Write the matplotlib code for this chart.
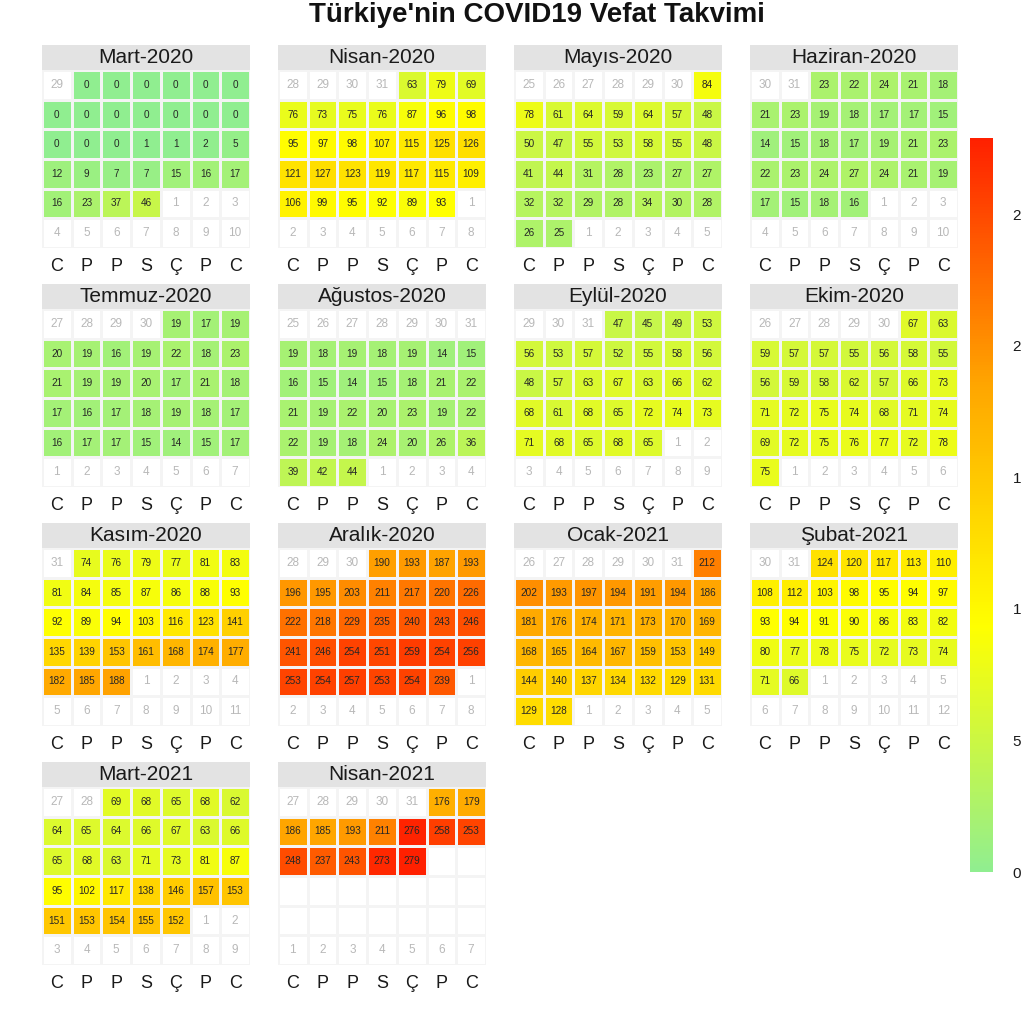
import datetime as dt
import numpy as np
import matplotlib
matplotlib.use("Agg")
import matplotlib.pyplot as plt
from matplotlib.colors import LinearSegmentedColormap, Normalize
from matplotlib.patches import Rectangle
from matplotlib.cm import ScalarMappable

plt.rcParams['font.family'] = ['Liberation Sans', 'DejaVu Sans']

# ---------------- data (daily COVID-19 deaths, Turkey) ----------------
title = "Türkiye'nin COVID19 Vefat Takvimi"
weekday_labels = ["C", "P", "P", "S", "Ç", "P", "C"]   # week starts on Saturday
month_names = ["Ocak", "Şubat", "Mart", "Nisan", "Mayıs", "Haziran", "Temmuz",
               "Ağustos", "Eylül", "Ekim", "Kasım", "Aralık"]

mart_2020 = [0, 0, 0, 0, 0, 0,
             0, 0, 0, 0, 0, 0, 0,
             0, 0, 0, 1, 1, 2, 5,
             12, 9, 7, 7, 15, 16, 17,
             16, 23, 37, 46]
nisan_2020 = [63, 79, 69,
              76, 73, 75, 76, 87, 96, 98,
              95, 97, 98, 107, 115, 125, 126,
              121, 127, 123, 119, 117, 115, 109,
              106, 99, 95, 92, 89, 93]
mayis_2020 = [84,
              78, 61, 64, 59, 64, 57, 48,
              50, 47, 55, 53, 58, 55, 48,
              41, 44, 31, 28, 23, 27, 27,
              32, 32, 29, 28, 34, 30, 28,
              26, 25]
haziran_2020 = [23, 22, 24, 21, 18,
                21, 23, 19, 18, 17, 17, 15,
                14, 15, 18, 17, 19, 21, 23,
                22, 23, 24, 27, 24, 21, 19,
                17, 15, 18, 16]
temmuz_2020 = [19, 17, 19,
               20, 19, 16, 19, 22, 18, 23,
               21, 19, 19, 20, 17, 21, 18,
               17, 16, 17, 18, 19, 18, 17,
               16, 17, 17, 15, 14, 15, 17]
agustos_2020 = [19, 18, 19, 18, 19, 14, 15,
                16, 15, 14, 15, 18, 21, 22,
                21, 19, 22, 20, 23, 19, 22,
                22, 19, 18, 24, 20, 26, 36,
                39, 42, 44]
eylul_2020 = [47, 45, 49, 53,
              56, 53, 57, 52, 55, 58, 56,
              48, 57, 63, 67, 63, 66, 62,
              68, 61, 68, 65, 72, 74, 73,
              71, 68, 65, 68, 65]
ekim_2020 = [67, 63,
             59, 57, 57, 55, 56, 58, 55,
             56, 59, 58, 62, 57, 66, 73,
             71, 72, 75, 74, 68, 71, 74,
             69, 72, 75, 76, 77, 72, 78,
             75]
kasim_2020 = [74, 76, 79, 77, 81, 83,
              81, 84, 85, 87, 86, 88, 93,
              92, 89, 94, 103, 116, 123, 141,
              135, 139, 153, 161, 168, 174, 177,
              182, 185, 188]
aralik_2020 = [190, 193, 187, 193,
               196, 195, 203, 211, 217, 220, 226,
               222, 218, 229, 235, 240, 243, 246,
               241, 246, 254, 251, 259, 254, 256,
               253, 254, 257, 253, 254, 239]
ocak_2021 = [212,
             202, 193, 197, 194, 191, 194, 186,
             181, 176, 174, 171, 173, 170, 169,
             168, 165, 164, 167, 159, 153, 149,
             144, 140, 137, 134, 132, 129, 131,
             129, 128]
subat_2021 = [124, 120, 117, 113, 110,
              108, 112, 103, 98, 95, 94, 97,
              93, 94, 91, 90, 86, 83, 82,
              80, 77, 78, 75, 72, 73, 74,
              71, 66]
mart_2021 = [69, 68, 65, 68, 62,
             64, 65, 64, 66, 67, 63, 66,
             65, 68, 63, 71, 73, 81, 87,
             95, 102, 117, 138, 146, 157, 153,
             151, 153, 154, 155, 152]
nisan_2021 = [176, 179,
              186, 185, 193, 211, 276, 258, 253,
              248, 237, 243, 273, 279]

months = [(2020, 3, mart_2020), (2020, 4, nisan_2020), (2020, 5, mayis_2020),
          (2020, 6, haziran_2020), (2020, 7, temmuz_2020), (2020, 8, agustos_2020),
          (2020, 9, eylul_2020), (2020, 10, ekim_2020), (2020, 11, kasim_2020),
          (2020, 12, aralik_2020), (2021, 1, ocak_2021), (2021, 2, subat_2021),
          (2021, 3, mart_2021), (2021, 4, nisan_2021)]

colorbar_ticks = [0, 50, 100, 150, 200, 250]

# ---------------- style ----------------
W = H = 1021
fig = plt.figure(figsize=(W / 100, H / 100), dpi=100)
fig.patch.set_facecolor("white")

cmap = LinearSegmentedColormap.from_list(
    "heat", ["#90EE90", "#FFFF00", "#FFA500", "#FF2000"])
vmax = max(max(v) for _, _, v in months)
norm = Normalize(vmin=0, vmax=vmax)

col_left = [42, 278, 514, 750]
grid_top = [70, 309, 548, 787]
panel_w, grid_h, strip_h = 208, 178, 25


def col_of(d):
    return (d.weekday() - 5) % 7   # Saturday -> 0


for i, (yr, mo, vals) in enumerate(months):
    r, c = divmod(i, 4)
    ax = fig.add_axes([col_left[c] / W, 1 - (grid_top[r] + grid_h) / H,
                       panel_w / W, grid_h / H])
    first = dt.date(yr, mo, 1)
    off = col_of(first)
    if off == 0:
        off = 7
    start = first - dt.timedelta(days=off)

    Z = np.full((6, 7), np.nan)
    texts = []
    for k in range(42):
        d = start + dt.timedelta(days=k)
        row, col = divmod(k, 7)
        if d.month == mo and d.year == yr:
            idx = d.day - 1
            if idx < len(vals):
                Z[row, col] = vals[idx]
                texts.append((col, row, str(vals[idx]), True))
        else:
            texts.append((col, row, str(d.day), False))

    ax.pcolormesh(np.arange(8), np.arange(7), np.zeros((6, 7)),
                  cmap=LinearSegmentedColormap.from_list("w", ["white", "white"]),
                  edgecolors="#e6e6e6", linewidth=0.8)
    ax.pcolormesh(np.arange(8), np.arange(7), np.ma.masked_invalid(Z),
                  cmap=cmap, norm=norm, edgecolors="#f4f4f4", linewidth=0.8)
    for x, y, s, is_val in texts:
        if is_val:
            ax.text(x + 0.5, y + 0.5, s, ha="center", va="center",
                    fontsize=7.2, color="#262626")
        else:
            ax.text(x + 0.5, y + 0.5, s, ha="center", va="center",
                    fontsize=8.5, color="#b8b8b8")

    ax.set_xlim(0, 7)
    ax.set_ylim(6, 0)
    for sp in ax.spines.values():
        sp.set_visible(False)
    ax.set_yticks([])
    ax.set_xticks(np.arange(7) + 0.5)
    ax.set_xticklabels(weekday_labels, fontsize=13, color="#1a1a1a")
    ax.tick_params(axis="x", length=0, pad=7)

    ax.add_patch(Rectangle((0, 1), 1, strip_h / grid_h, transform=ax.transAxes,
                           facecolor="#e3e3e3", edgecolor="none", clip_on=False))
    ax.text(0.5, 1 + strip_h / grid_h / 2, f"{month_names[mo - 1]}-{yr}",
            transform=ax.transAxes, ha="center", va="center",
            fontsize=15, color="#1a1a1a")

fig.text(537 / W, 1 - 15 / H, title, ha="center", va="center",
         fontsize=20, fontweight="bold", color="#111111")

cax = fig.add_axes([970 / W, 1 - 872 / H, 23 / W, 734 / H])
cb = fig.colorbar(ScalarMappable(norm=norm, cmap=cmap), cax=cax)
cb.outline.set_visible(False)
cb.set_ticks(colorbar_ticks)
cb.ax.tick_params(length=0, pad=14, labelsize=11, colors="#1a1a1a")

fig.savefig("out.png", dpi=100, facecolor="white")
